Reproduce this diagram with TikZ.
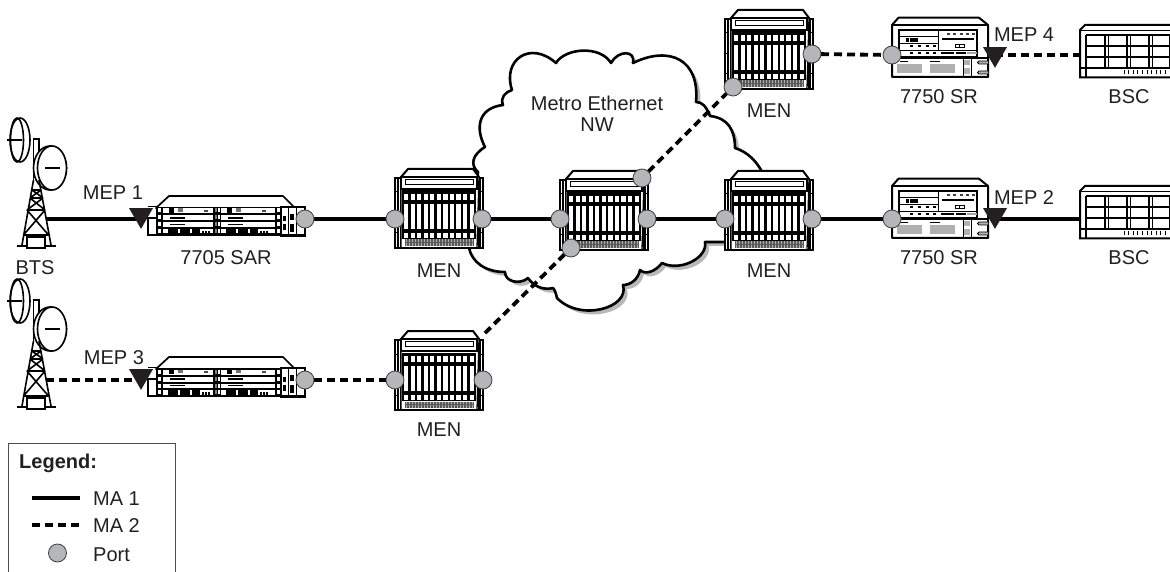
\documentclass[tikz,border=0pt]{standalone}
\usepackage{fontspec}
\setmainfont{Liberation Sans}
\usetikzlibrary{shapes.geometric,backgrounds}
\definecolor{portgrey}{HTML}{B5B6BA}
\definecolor{blockgrey}{HTML}{B0B0B2}
\definecolor{txt}{HTML}{231F20}
\tikzset{
  x=1pt,y=-1pt,
  lab/.style={font=\fontsize{20}{22}\selectfont,text=txt,inner sep=0pt},
  port/.style={circle,draw=black!75,line width=0.8pt,fill=portgrey,minimum size=18pt,inner sep=0pt,outer sep=0pt},
  mep/.style={regular polygon,regular polygon sides=3,shape border rotate=180,fill=txt,minimum size=27.7pt,inner sep=0pt,outer sep=0pt},
  ma1/.style={line width=3.8pt,black},
  ma2/.style={line width=3.8pt,black,dash pattern=on 8pt off 5pt},
  men/.pic={
    \draw[line width=2pt,fill=white] (0,9) rectangle (88,79);
    \draw[line width=2pt,fill=white,line join=round] (6,79)--(6,8)--(13,0)--(78,0)--(84,8)--(84,79);
    \draw[line width=1.3pt,fill=white] (6,8)--(84,8)--(82,79)--(6,79)--cycle;
    \draw[line width=1.3pt,fill=white] (6,8) rectangle (82,20);
    \draw[line width=0.9pt] (10,10.5) rectangle (78,15.5);
    \fill[black] (7,21.5) rectangle (81,70);
    \foreach \i in {0,...,10}{
      \fill[white] (9+6.55*\i,25) rectangle +(4.2,6);
      \fill[white] (9+6.55*\i,35) rectangle +(4.2,25);
      \fill[white] (9+6.55*\i,64) rectangle +(4.2,5);
    }
    \fill[blockgrey] (10,70.5) rectangle (78,77);
    \foreach \i in {0,...,45}{\draw[line width=0.5pt,black!65] (10.5+1.5*\i,70.5)--+(0,6.5);}
    \draw[line width=0.5pt,black!65] (10,73.7)--(78,73.7);
    \draw[line width=2.2pt] (0,79)--(88,79);
    \foreach \yy in {23,44,64}{
      \draw[line width=1pt] (0,\yy)--(4,\yy);
      \draw[line width=1pt] (84,\yy)--(88,\yy);
    }
    \draw[line width=1.2pt] (3,9)--(3,79) (85,9)--(85,79);
  },
  sar/.pic={
    \draw[line width=1.7pt,fill=white,line join=round] (8,12)--(21,0)--(135,0)--(147,12)--cycle;
    \draw[line width=1.7pt,fill=white] (0,22) rectangle (10,39);
    \draw[line width=0.8pt] (0,10.5)--(10,10.5);
    \fill[black] (8,11) rectangle (157,40);
    \foreach \xa/\xb in {15/65,73/127}{
      \fill[white] (\xa,12.5) rectangle (\xb,17.5);
      \fill[white] (\xa,19.5) rectangle (\xb,24.5);
      \fill[white] (\xa,26.5) rectangle (\xb,31);
      \fill[white] (\xa,33) rectangle (\xb,37.5);
    }
    \foreach \d in {0,58}{
      \begin{scope}[xshift=\d pt]
        \fill[black] (21,12.5) rectangle (25.5,17);
        \fill[black!55] (30,12.5) rectangle (35,16);
        \fill[black!70] (56,14) rectangle (60,16);
        \fill[black] (22,21.3) rectangle (37,22.6);
        \fill[black] (22,28) rectangle (37,29.3);
        \fill[black] (20,33) rectangle (30,37.5);
        \fill[black] (32,33) rectangle (42,37.5);
        \fill[black] (44,33) rectangle (52,37.5);
        \fill[black] (54,35) rectangle (56,37.5);
        \fill[black] (57,35) rectangle (59,37.5);
        \fill[black] (60,35) rectangle (62,37.5);
      \end{scope}
    }
    \foreach \yy in {12.5,19.5,26.5,33}{
      \fill[white] (10,\yy) rectangle +(3,4);
      \fill[black!50] (67,\yy) rectangle +(2,4);
      \fill[white] (70,\yy) rectangle +(1.5,4);
      \fill[white] (129,\yy) rectangle +(3,4);
    }
    \fill[white] (133,11.5) rectangle (155.5,38);
    \draw[line width=0.8pt] (140,11)--(140,38) (148,11)--(148,38);
    \fill[black] (134.5,20) rectangle (138,34);
    \fill[white] (134.5,25) rectangle (138,28);
    \fill[black] (142,18) rectangle (146,24);
    \fill[black] (142,28) rectangle (146,36);
    \draw[line width=1.5pt] (133,11)rectangle(157,40);
  },
  sr/.pic={
    \draw[line width=2pt,fill=white,line join=round] (0,60)--(0,8)--(6.5,0.7)--(87,0.7)--(96,8)--(96,60)--cycle;
    \draw[line width=1.3pt] (0,8)--(96,8);
    \draw[line width=1.1pt] (7,13) rectangle (85,40);
    \draw[line width=0.9pt] (46.5,13)--(46.5,33) (7,19.6)--(46.5,19.6) (7,26.5)--(46.5,26.5) (7,33)--(85,33);
    \fill[black] (14,21) rectangle (26,25);
    \fill[white] (17,21) rectangle (18,25);
    \foreach \xx in {18,26,34,41}{
      \fill[black] (\xx,28.3) rectangle +(2.5,1.6);
      \fill[black] (\xx,35.5) rectangle +(2.5,1.6);
    }
    \foreach \xx in {56,62.5,69,75.5,81}{\fill[black!75] (\xx-1.5,16.5) rectangle +(3,1.6);}
    \fill[black] (50,21) rectangle (82,23);
    \draw[line width=0.7pt] (63,27) rectangle (72,30);
    \draw[line width=0.7pt] (67.5,27)--(67.5,30);
    \fill[black] (49,35.3) rectangle (62,37);
    \fill[black] (64,35.3) rectangle (74,37);
    \fill[black!35] (75,35.3) rectangle (85,37);
    \draw[line width=2pt] (0,41.5)--(96,41.5);
    \fill[blockgrey] (5,47) rectangle (30,56);
    \fill[blockgrey] (38,47) rectangle (63,56);
    \fill[black] (8,43.6) rectangle (16,44.8);
    \fill[black] (38,43.6) rectangle (48,44.8);
    \draw[line width=1pt] (71,41.5)--(71,60) (79,41.5)--(79,60);
    \fill[blockgrey] (72,43) rectangle (78,48);
    \fill[blockgrey] (72,51) rectangle (78,57);
    \draw[line width=0.9pt,fill=blockgrey] (96,44)--(87,44)--(85.5,45.5)--(87,47)--(96,47);
    \draw[line width=0.9pt,fill=blockgrey] (96,54)--(87,54)--(85.5,55.5)--(87,57)--(96,57);
  },
  bsc/.pic={
    \draw[line width=2pt,fill=white] (95,52.5)--(0,52.5)--(0,5)--(5,0)--(95,0);
    \draw[line width=1.3pt] (0,5.5)--(95,5.5);
    \draw[line width=1.1pt] (6,10)--(95,10) (6,21)--(95,21) (6,32)--(95,32) (0,43)--(95,43);
    \draw[line width=1.1pt] (6,10)--(6,52.5);
    \foreach \xx in {25,47,69}{\draw[line width=1.1pt] (\xx,10)--(\xx,43) (\xx+3.3,10)--(\xx+3.3,43);}
    \draw[line width=1.1pt] (90,10)--(90,43);
    \foreach \i in {0,...,9}{\draw[line width=0.7pt] (44+4.6*\i,45)--+(0,4);}
  },
  tower/.pic={
    \draw[line width=1.6pt] (7,140)--(22,140);
    \draw[line width=1.6pt] (20,140) ellipse [x radius=10,y radius=22];
    \draw[line width=1.6pt] (17,140) ellipse [x radius=6.5,y radius=22];
    \draw[line width=1.6pt,fill=white] (33.5,180)--(33.5,139)--(39,139)--(39,180);
    \draw[line width=1.6pt,fill=white] (50,168) ellipse [x radius=16.5,y radius=22];
    \draw[line width=1.6pt,fill=white] (52,168) ellipse [x radius=14.5,y radius=22];
    \draw[line width=1.6pt] (45,168)--(60,168);
    \draw[line width=1.6pt,line join=round]
      (33.5,180)--(22,245) (39,180)--(51,245)
      (32,190)--(41,190) (30,198)--(43,198) (27,210)--(45,210) (23.5,235)--(48.5,235)
      (30,198)--(45,210) (43,198)--(27,210)
      (27,210)--(48.5,235) (45,210)--(23.5,235)
      (32,190)--(43,198) (41,190)--(30,198);
    \draw[line width=1.6pt] (17,246)--(56,246);
    \draw[line width=1.6pt,fill=white] (27,237) rectangle (45,248);
  }
}
\begin{document}
\begin{tikzpicture}
\useasboundingbox (0,0) rectangle (1170,572);
% devices
\pic at (0,0) {tower};
\pic at (0,161) {tower};
\pic at (148,196) {sar};
\pic at (148,357) {sar};
\pic at (395,169) {men};
\pic at (560,171) {men};
\pic at (725,171) {men};
\pic at (725,10) {men};
\pic at (395,331) {men};
\pic at (892,17) {sr};
\pic at (892,178) {sr};
\begin{scope}
\clip (1000,0) rectangle (1170,572);
\pic at (1080,25) {bsc};
\pic at (1080,186) {bsc};
\end{scope}
% ports
\node[port] (sar1p) at (305,219) {};
\node[port] (sar2p) at (305,380) {};
\node[port] (m1l) at (395,219) {};
\node[port] (m1r) at (482,219) {};
\node[port] (m2l) at (560,219) {};
\node[port] (m2r) at (647,219) {};
\node[port] (m2t) at (642,178) {};
\node[port] (m2b) at (571,248) {};
\node[port] (m3l) at (725,219) {};
\node[port] (m3r) at (812,219) {};
\node[port] (m4b) at (733,87) {};
\node[port] (m4r) at (812,54) {};
\node[port] (m5l) at (395,380) {};
\node[port] (m5r) at (483,380) {};
\node[port] (sr1p) at (892,219) {};
\node[port] (sr2p) at (892,55) {};
% MEPs
\node[mep] (mep1) at (141,215) {};
\node[mep] (mep3) at (141,376) {};
\node[mep] (mep2) at (995,215) {};
\node[mep] (mep4) at (995,54) {};
% free ends
\coordinate (bts1) at (46,219);
\coordinate (bts2) at (46,380);
\coordinate (bsc1) at (1080,219);
\coordinate (bsc2) at (1080,55);
\coordinate (m5c) at (482,336);
% labels
\node[lab] (lm1) at (113,193) {MEP 1};
\node[lab] (lm3) at (114,358) {MEP 3};
\node[lab] (lm2) at (1024,198) {MEP 2};
\node[lab] (lm4) at (1024,35) {MEP 4};
\node[lab] (lbts) at (35,268) {BTS};
\node[lab] (lsar) at (226,258) {7705 SAR};
\node[lab] (lmen1) at (439,271) {MEN};
\node[lab] (lmen3) at (769,271) {MEN};
\node[lab] (lmen4) at (769,111) {MEN};
\node[lab] (lmen5) at (439,430) {MEN};
\node[lab] (lsr1) at (939,258) {7750 SR};
\node[lab] (lsr2) at (939,97) {7750 SR};
\node[lab] (lbsc1) at (1129,258) {BSC};
\node[lab] (lbsc2) at (1129,97) {BSC};
\node[lab,align=center] (lcloud) at (597,114) {Metro Ethernet\\[-1pt]NW};
% legend
\draw[line width=0.9pt,black!70] (8.5,572)--(8.5,443.5)--(175.5,443.5)--(175.5,572);
\node[lab,anchor=west,font=\fontsize{20}{22}\selectfont\bfseries] (lleg) at (19,463) {Legend:};
\coordinate (l1a) at (32,498);
\coordinate (l1b) at (80,498);
\coordinate (l2a) at (32,525);
\coordinate (l2b) at (80,525);
\node[lab,anchor=west] (lma1) at (93,499) {MA 1};
\node[lab,anchor=west] (lma2) at (93,526) {MA 2};
\node[port] (lport) at (57.5,553) {};
\node[lab,anchor=west] (lpt) at (93,555) {Port};
\begin{pgfonlayer}{background}
  \def\cloudpath{(478,172) .. controls (470,165) and (472,155) .. (485,147)
    .. controls (475,128) and (478,108) .. (503,105)
    .. controls (500,98) and (505,92) .. (512,90)
    .. controls (502,60) and (530,40) .. (556,63)
    .. controls (565,48) and (600,45) .. (611,63)
    .. controls (618,50) and (636,50) .. (633,63)
    .. controls (670,45) and (700,60) .. (696,102)
    .. controls (702,102) and (706,106) .. (710,116)
    .. controls (728,118) and (735,130) .. (735,148)
    .. controls (748,152) and (757,162) .. (762,172)
    -- (730,242) -- (705,242)
    .. controls (708,258) and (680,272) .. (662,263)
    .. controls (655,272) and (645,275) .. (640,270)
    .. controls (638,280) and (630,285) .. (623,285)
    .. controls (630,308) and (580,322) .. (557,298)
    .. controls (556,294) and (555,290) .. (553,288)
    .. controls (545,290) and (535,288) .. (528,278)
    .. controls (520,285) and (505,282) .. (505,272)
    .. controls (485,272) and (472,262) .. (469,248)
    -- cycle}
  \fill[black!28] [xshift=4pt,yshift=-4pt] \cloudpath;
  \draw[line width=2.6pt,fill=white,line join=round] \cloudpath;
  \draw[ma1] (bts1) -- (bts1 -| mep1.center);
  \draw[ma2] (bts2) -- (bts2 -| mep3.center);
  \draw[ma1] (sar1p) -- (m1l);
  \draw[ma2] (sar2p) -- (m5l);
  \draw[ma1] (m1r) -- (m2l);
  \draw[ma1] (m2r) -- (m3l);
  \draw[ma1] (m3r) -- (sr1p);
  \draw[ma2] (m4r) -- (sr2p);
  \draw[ma1] (bsc1 -| mep2.center) -- (bsc1);
  \draw[ma2] (bsc2 -| mep4.center) -- (bsc2);
  \draw[ma2] (m2t) -- (m4b);
  \draw[ma2] (m2b) -- (m5c);
  \draw[ma1] (l1a) -- (l1b);
  \draw[ma2] (l2a) -- (l2b);
\end{pgfonlayer}
\end{tikzpicture}
\end{document}
